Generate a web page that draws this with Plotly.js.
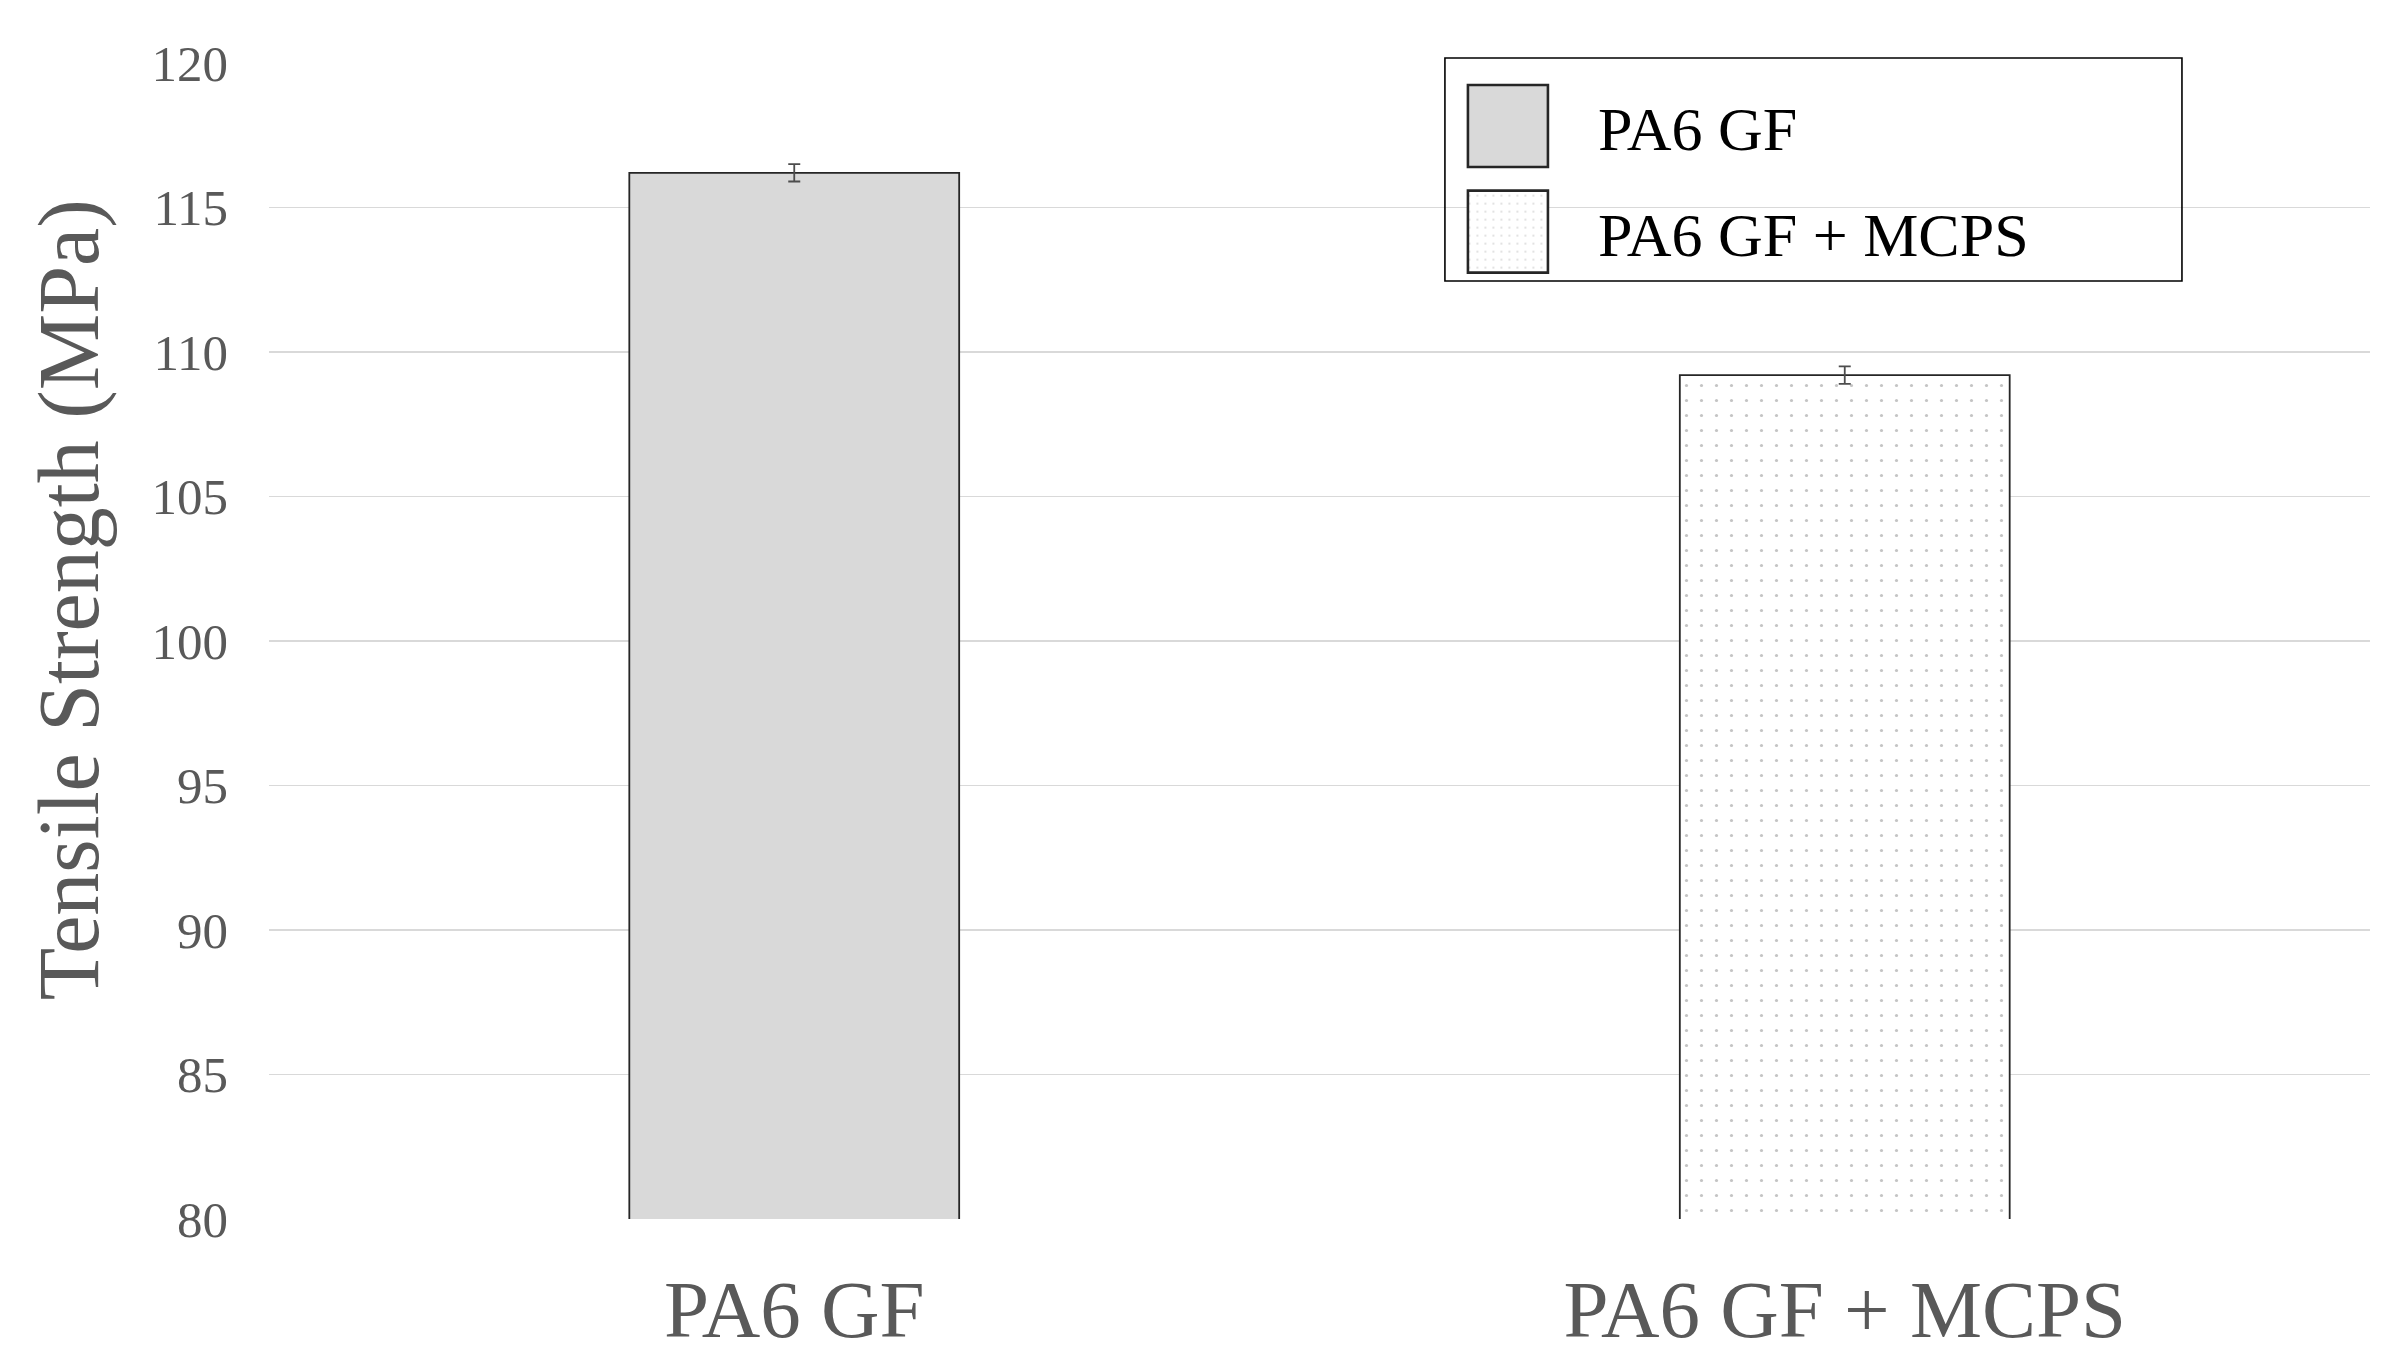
<!DOCTYPE html>
<html>
<head>
<meta charset="utf-8">
<script src="https://cdn.plot.ly/plotly-3.0.1.min.js"></script>
<style>html,body{margin:0;padding:0;background:#fff;}#chart{width:2398px;height:1360px;}</style>
</head>
<body>
<div id="chart"></div>
<script>
const categories = ["PA6 GF", "PA6 GF + MCPS"];
const seriesNames = ["PA6 GF", "PA6 GF + MCPS"];
const tensileStrength = [116.2, 109.2];
const errorValues = [0.3, 0.3];
const yTickValues = [80, 85, 90, 95, 100, 105, 110, 115, 120];
const yTitle = 'Tensile Strength (MPa)';

const serif = '"Liberation Serif", "DejaVu Serif", serif';

const traces = [
  {
    type: 'bar', name: seriesNames[0], legendgroup: 'a',
    x: [categories[0]], y: [tensileStrength[0]],
    error_y: {type: 'data', array: [errorValues[0]], visible: true, color: '#4d4d4d', thickness: 1.8, width: 6},
    marker: {color: '#d9d9d9', line: {color: '#262626', width: 1.8}}
  },
  {
    type: 'bar', name: seriesNames[1], legendgroup: 'b',
    x: [categories[1]], y: [tensileStrength[1]],
    error_y: {type: 'data', array: [errorValues[1]], visible: true, color: '#4d4d4d', thickness: 1.8, width: 6},
    marker: {color: '#ffffff', line: {color: '#262626', width: 1.8},
      pattern: {shape: '.', fgcolor: '#c4c4c4', bgcolor: '#ffffff', size: 15, solidity: 0.035}}
  }
];

const layout = {
  width: 2398, height: 1360,
  margin: {l: 269, r: 28, t: 63, b: 141},
  paper_bgcolor: '#ffffff', plot_bgcolor: '#ffffff',
  barmode: 'overlay',
  bargap: 0.686,
  showlegend: true,
  legend: {
    x: 0.5597, y: 0.986, xanchor: 'left', yanchor: 'top',
    bgcolor: 'rgba(0,0,0,0)', borderwidth: 0,
    font: {family: serif, size: 62, color: '#000000'},
    itemwidth: 143, tracegroupgap: 22, traceorder: 'grouped'
  },
  xaxis: {
    type: 'category', categoryarray: categories,
    showgrid: false, showline: false, zeroline: false,
    ticks: '', ticklabelstandoff: 36,
    tickfont: {family: serif, size: 81, color: '#595959'}
  },
  yaxis: {
    range: [80, 120], tickvals: yTickValues, ticktext: yTickValues.map(String),
    showgrid: true, gridcolor: '#d9d9d9', gridwidth: 1.5,
    zeroline: false, showline: false, ticks: '', ticklabelstandoff: 40,
    tickfont: {family: serif, size: 51, color: '#595959'}
  },
  annotations: [
    {text: yTitle, xref: 'paper', yref: 'paper', x: -0.0952, y: 0.536,
     xanchor: 'center', yanchor: 'middle', textangle: -90, showarrow: false,
     font: {family: serif, size: 86, color: '#595959'}}
  ],
  shapes: [
    {type: 'rect', xref: 'paper', yref: 'paper', x0: 0.5597, x1: 0.9105, y0: 0.8114, y1: 1.0043,
     line: {color: '#000000', width: 1.6}, fillcolor: 'rgba(0,0,0,0)', layer: 'above'}
  ]
};

function enlargeSwatches() {
  document.querySelectorAll('#chart .legend .legendpoints path').forEach(p => {
    p.setAttribute('d', 'M-53.5,-41H26.5V41H-53.5Z');
    p.style.strokeWidth = '2.6px';
  });
}

const gd = document.getElementById('chart');
Plotly.newPlot(gd, traces, layout, {displayModeBar: false, staticPlot: true}).then(() => {
  enlargeSwatches();
  gd.on('plotly_afterplot', enlargeSwatches);
});
</script>
</body>
</html>
